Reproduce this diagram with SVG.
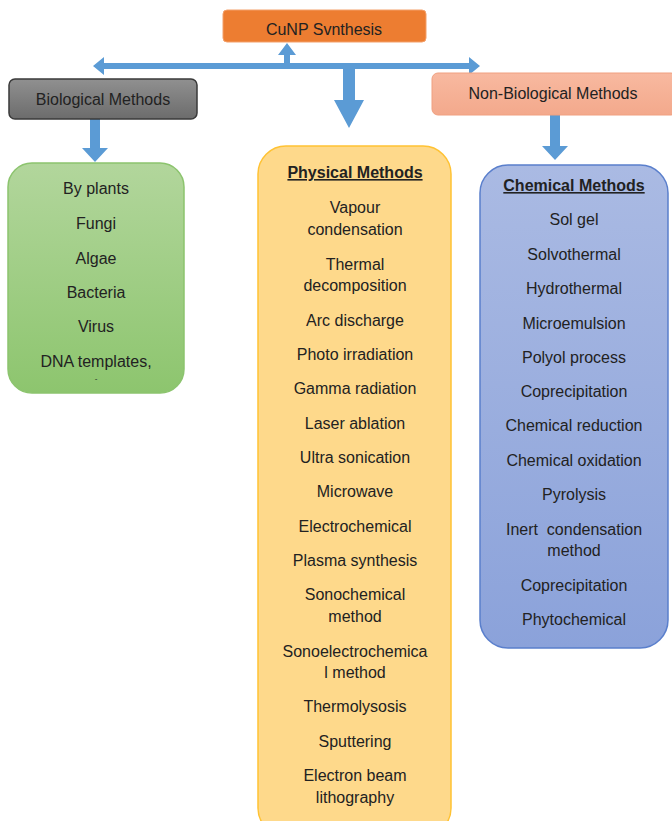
<svg xmlns="http://www.w3.org/2000/svg" width="672" height="821" viewBox="0 0 672 821">
<defs>
<linearGradient id="gGreen" x1="0" y1="0" x2="0" y2="1"><stop offset="0" stop-color="#B2D69C"/><stop offset="1" stop-color="#8DC56E"/></linearGradient>
<linearGradient id="gBlue" x1="0" y1="0" x2="0" y2="1"><stop offset="0" stop-color="#AABAE3"/><stop offset="1" stop-color="#8BA2DA"/></linearGradient>
<linearGradient id="gGray" x1="0" y1="0" x2="0" y2="1"><stop offset="0" stop-color="#909090"/><stop offset="1" stop-color="#6C6C6C"/></linearGradient>
<linearGradient id="gSalmon" x1="0" y1="0" x2="0" y2="1"><stop offset="0" stop-color="#F8B9A0"/><stop offset="1" stop-color="#F3A98C"/></linearGradient>
</defs>
<style>
text{font-family:"Liberation Sans",Arial,sans-serif;font-size:16px;fill:#222;text-anchor:middle}
.h{font-weight:bold;text-decoration:underline}
.arrow{fill:#5B9BD5}
</style>
<rect width="672" height="821" fill="#ffffff"/>
<g id="connectors">
<path class="arrow" d="M93,66 L104,57 L104,63 L284,63 L284,55 L278,55 L287,43 L296,55 L290,55 L290,63 L469,63 L469,57 L480,66 L469,75 L469,69 L355,69 L355,100 L364,100 L349,128 L334,100 L343,100 L343,69 L104,69 L104,75 Z"/>
<path class="arrow" d="M90,119 L100,119 L100,148 L108,148 L95,162 L82,148 L90,148 Z"/>
<path class="arrow" d="M550,115 L560,115 L560,146 L568,146 L555,160 L542,146 L550,146 Z"/>
</g>
<g id="top">
<rect x="223" y="10" width="203" height="32" rx="4" fill="#ED7D31" stroke="#F3A06A" stroke-width="1"/>
<text x="324" y="35">CuNP Svnthesis</text>
</g>
<g id="bio">
<rect x="9" y="79" width="188" height="40" rx="6" fill="url(#gGray)" stroke="#3A3A3A" stroke-width="1.5"/>
<text x="103" y="105">Biological Methods</text>
</g>
<g id="nonbio">
<rect x="432" y="73" width="245" height="42" rx="6" fill="url(#gSalmon)" stroke="#F0A080" stroke-width="1"/>
<text x="553" y="99">Non-Biological Methods</text>
</g>
<g id="biolist">
<rect x="8" y="163" width="176" height="230" rx="24" fill="url(#gGreen)" stroke="#8CC46E" stroke-width="1.5"/>
<text x="96" y="194">By plants</text>
<text x="96" y="229">Fungi</text>
<text x="96" y="264">Algae</text>
<text x="96" y="298">Bacteria</text>
<text x="96" y="332">Virus</text>
<text x="96" y="367">DNA templates,</text>
<text x="96" y="381" style="font-size:8px">-</text>
</g>
<g id="physical">
<rect x="258" y="146" width="193" height="690" rx="28" fill="#FED98B" stroke="#FFC233" stroke-width="1.5"/>
<text class="h" x="355" y="178">Physical Methods</text>
<text x="355" y="213">Vapour</text>
<text x="355" y="235">condensation</text>
<text x="355" y="270">Thermal</text>
<text x="355" y="291">decomposition</text>
<text x="355" y="326">Arc discharge</text>
<text x="355" y="360">Photo irradiation</text>
<text x="355" y="394">Gamma radiation</text>
<text x="355" y="429">Laser ablation</text>
<text x="355" y="463">Ultra sonication</text>
<text x="355" y="497">Microwave</text>
<text x="355" y="532">Electrochemical</text>
<text x="355" y="566">Plasma synthesis</text>
<text x="355" y="600">Sonochemical</text>
<text x="355" y="622">method</text>
<text x="355" y="657">Sonoelectrochemica</text>
<text x="355" y="678">l method</text>
<text x="355" y="712">Thermolysosis</text>
<text x="355" y="747">Sputtering</text>
<text x="355" y="781">Electron beam</text>
<text x="355" y="803">lithography</text>
</g>
<g id="chemical">
<rect x="480" y="165" width="188" height="483" rx="28" fill="url(#gBlue)" stroke="#5A7FCC" stroke-width="1.5"/>
<text class="h" x="574" y="191">Chemical Methods</text>
<text x="574" y="225">Sol gel</text>
<text x="574" y="260">Solvothermal</text>
<text x="574" y="294">Hydrothermal</text>
<text x="574" y="329">Microemulsion</text>
<text x="574" y="363">Polyol process</text>
<text x="574" y="397">Coprecipitation</text>
<text x="574" y="431">Chemical reduction</text>
<text x="574" y="466">Chemical oxidation</text>
<text x="574" y="500">Pyrolysis</text>
<text x="574" y="535" xml:space="preserve">Inert  condensation</text>
<text x="574" y="556">method</text>
<text x="574" y="591">Coprecipitation</text>
<text x="574" y="625">Phytochemical</text>
</g>
</svg>
